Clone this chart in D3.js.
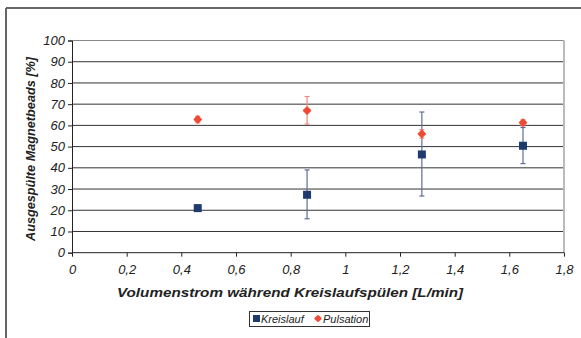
<!DOCTYPE html>
<html><head><meta charset="utf-8">
<script src="https://cdn.jsdelivr.net/npm/d3@7"></script>
<style>body{margin:0;background:#fff}svg{display:block}text{font-family:"Liberation Sans",Arial,sans-serif}</style>
</head><body>
<script>
const xFlow = [0.46, 0.86, 1.28, 1.65];
const kreislauf = [21, 27.3, 46.3, 50.4];
const kreislaufErrLow = [19.5, 16, 26.7, 42];
const kreislaufErrHigh = [22.5, 39, 66.3, 59];
const pulsation = [62.8, 67, 56, 61.3];
const pulsationErrLow = [61.2, 60.6, 54, 59.8];
const pulsationErrHigh = [64.3, 73.6, 58, 62.6];
const xTicks = [0, 0.2, 0.4, 0.6, 0.8, 1, 1.2, 1.4, 1.6, 1.8];
const yTicks = [0, 10, 20, 30, 40, 50, 60, 70, 80, 90, 100];
const seriesNames = ["Kreislauf", "Pulsation"];

const W = 581, H = 338;
const svg = d3.select("body").append("svg").attr("width", W).attr("height", H);
const m = {l: 72, r: 564, t: 40.5, b: 252.7};
const x = d3.scaleLinear().domain([0, 1.8]).range([m.l, m.r]);
const y = d3.scaleLinear().domain([0, 100]).range([m.b, m.t]);
const fmt = d => String(d).replace(".", ",");

// outer frame
svg.append("line").attr("x1", 6).attr("x2", W).attr("y1", 8).attr("y2", 8).attr("stroke", "#333").attr("stroke-width", 1.5);
svg.append("line").attr("x1", 6).attr("x2", 6).attr("y1", 8).attr("y2", H).attr("stroke", "#666").attr("stroke-width", 2);

// gridlines
svg.append("g").selectAll("line").data(yTicks.filter(d => d > 0)).join("line")
  .attr("x1", m.l).attr("x2", m.r).attr("y1", d => y(d)).attr("y2", d => y(d))
  .attr("stroke", d => d === 100 ? "#888" : "#333").attr("stroke-width", 1);
// right plot border
svg.append("line").attr("x1", m.r).attr("x2", m.r).attr("y1", m.t).attr("y2", m.b).attr("stroke", "#bbb").attr("stroke-width", 2);

// axes
const ya = svg.append("g").attr("transform", `translate(${m.l},0)`)
  .call(d3.axisLeft(y).tickValues(yTicks).tickSize(4).tickPadding(3).tickFormat(fmt));
const xa = svg.append("g").attr("transform", `translate(0,${m.b})`)
  .call(d3.axisBottom(x).tickValues(xTicks).tickSize(4).tickPadding(8).tickFormat(fmt));
[ya, xa].forEach(a => {
  a.select(".domain").attr("stroke", "#222");
  a.selectAll(".tick line").attr("stroke", "#222");
  a.selectAll("text").attr("font-size", 13).attr("font-style", "italic").attr("fill", "#222");
});
xa.select(".domain").attr("d", `M${m.l},0H${m.r}`);

// titles
svg.append("text").attr("x", 290).attr("y", 296.5).attr("text-anchor", "middle")
  .attr("font-size", 13.5).attr("font-weight", "bold").attr("font-style", "italic").attr("fill", "#222")
  .attr("textLength", 346).attr("lengthAdjust", "spacingAndGlyphs")
  .text("Volumenstrom während Kreislaufspülen [L/min]");
svg.append("text").attr("transform", `translate(35,149) rotate(-90)`).attr("text-anchor", "middle")
  .attr("font-size", 13.5).attr("font-weight", "bold").attr("font-style", "italic").attr("fill", "#222")
  .attr("textLength", 184).attr("lengthAdjust", "spacingAndGlyphs")
  .text("Ausgespülte Magnetbeads [%]");

const navy = "#1f3a6e", red = "#f04a36";
function errBars(vals, lo, hi, col) {
  const g = svg.append("g");
  xFlow.forEach((xv, i) => {
    g.append("line").attr("x1", x(xv)).attr("x2", x(xv)).attr("y1", y(lo[i])).attr("y2", y(hi[i])).attr("stroke", col).attr("stroke-width", 1.2);
    [lo[i], hi[i]].forEach(v => g.append("line").attr("x1", x(xv) - 2.5).attr("x2", x(xv) + 2.5).attr("y1", y(v)).attr("y2", y(v)).attr("stroke", col).attr("stroke-width", 1.2));
  });
}
errBars(kreislauf, kreislaufErrLow, kreislaufErrHigh, "#5d6d94");
errBars(pulsation, pulsationErrLow, pulsationErrHigh, "#f08878");

svg.append("g").selectAll("rect").data(kreislauf).join("rect")
  .attr("x", (d, i) => x(xFlow[i]) - 4).attr("y", d => y(d) - 4).attr("width", 8).attr("height", 8).attr("fill", navy);
const diamond = d3.symbol().type(d3.symbolSquare).size(20);
svg.append("g").selectAll("path").data(pulsation).join("path")
  .attr("d", diamond).attr("transform", (d, i) => `translate(${x(xFlow[i])},${y(d)}) rotate(45)`)
  .attr("fill", red).attr("stroke", red).attr("stroke-width", 2).attr("stroke-linejoin", "round");

// legend
const lg = svg.append("g");
lg.append("rect").attr("x", 249.5).attr("y", 311.5).attr("width", 120).attr("height", 15).attr("fill", "#fff").attr("stroke", "#333").attr("stroke-width", 1);
lg.append("rect").attr("x", 253).attr("y", 315).attr("width", 7).attr("height", 7).attr("fill", navy);
lg.append("text").attr("x", 261).attr("y", 323).attr("font-size", 11).attr("font-style", "italic").attr("fill", "#222").text(seriesNames[0]);
lg.append("path").attr("d", d3.symbol().type(d3.symbolSquare).size(14)).attr("transform", "translate(318,318.5) rotate(45)").attr("fill", red).attr("stroke", red).attr("stroke-width", 1.8).attr("stroke-linejoin", "round");
lg.append("text").attr("x", 323).attr("y", 323).attr("font-size", 11).attr("font-style", "italic").attr("fill", "#222").text(seriesNames[1]);
</script>
</body></html>
